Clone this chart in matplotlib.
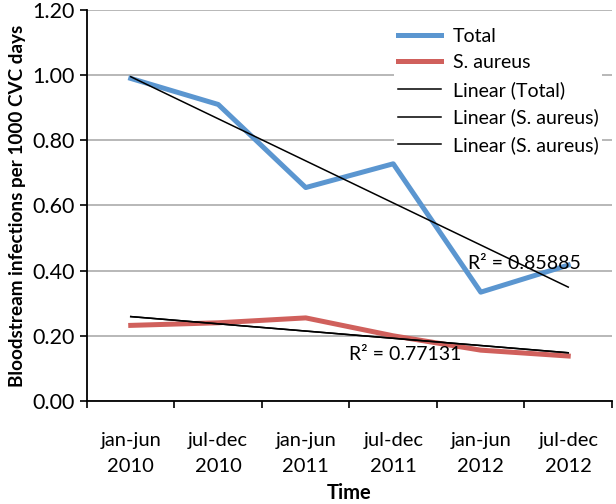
import numpy as np
import matplotlib
matplotlib.use("Agg")
import matplotlib.pyplot as plt

# Bloodstream infections per 1000 CVC days, half-year periods
periods = ["jan-jun\n2010", "jul-dec\n2010", "jan-jun\n2011",
           "jul-dec\n2011", "jan-jun\n2012", "jul-dec\n2012"]
total = [0.99, 0.91, 0.655, 0.728, 0.334, 0.417]
s_aureus = [0.232, 0.24, 0.255, 0.20, 0.156, 0.138]
r2_total_label = "R² = 0.85885"
r2_saureus_label = "R² = 0.77131"

plt.rcParams['font.family'] = ['Lato', 'DejaVu Sans']

fig = plt.figure(figsize=(6.16, 5.04), dpi=100)
ax = fig.add_axes([0.1412, 0.2044, 0.8523, 0.7758])

x = np.arange(len(periods))

# linear trendlines (least squares, like Excel)
fit_total = np.polyval(np.polyfit(x, total, 1), x)
fit_sa = np.polyval(np.polyfit(x, s_aureus, 1), x)

ax.plot(x, total, color='#5B96D0', lw=3.6, label='Total', zorder=3)
ax.plot(x, s_aureus, color='#D0605C', lw=3.6, label='S. aureus', zorder=3)
ax.plot(x, fit_total, color='black', lw=1.1, label='Linear (Total)', zorder=4)
ax.plot(x, fit_sa, color='black', lw=1.1, label='Linear (S. aureus)', zorder=4)
ax.plot(x, fit_sa, color='black', lw=1.1, label='Linear (S. aureus)', zorder=4)

ax.text(3.85, 0.405, r2_total_label, fontsize=14, zorder=5)
ax.text(2.5, 0.125, r2_saureus_label, fontsize=14, zorder=5)

ax.set_xlim(-0.5, len(periods) - 0.5)
ax.set_ylim(0, 1.2)
ax.set_yticks(np.arange(0, 1.21, 0.2))
ax.set_yticklabels([f"{v:.2f}" for v in np.arange(0, 1.21, 0.2)], fontsize=15.5)

# ticks at category boundaries, labels at centres
ax.set_xticks(np.arange(-0.5, len(periods), 1.0))
ax.set_xticklabels([])
ax.set_xticks(x, minor=True)
ax.set_xticklabels(periods, minor=True, fontsize=14.5, linespacing=1.65)
ax.tick_params(axis='x', which='minor', length=0, pad=22)
ax.tick_params(axis='x', which='major', length=5, width=1.2, direction='out')
ax.tick_params(axis='y', length=5, width=1.2, direction='out', pad=4)

ax.grid(axis='y', color='#ABABAB', lw=1.2)
ax.set_axisbelow(True)
for side in ['top', 'right']:
    ax.spines[side].set_visible(False)
for side in ['left', 'bottom']:
    ax.spines[side].set_linewidth(1.3)

ax.set_ylabel("Bloodstream infections per 1000 CVC days", fontsize=13.6,
              fontweight='bold', labelpad=4)
ax.set_xlabel("Time", fontsize=14.5, fontweight='bold', labelpad=6)

leg = ax.legend(loc='upper right', bbox_to_anchor=(1.0, 0.99), frameon=True,
                fontsize=14, handlelength=2.2, labelspacing=0.5,
                borderpad=0.2, handletextpad=0.6, fancybox=False)
leg.get_frame().set_edgecolor('none')
leg.get_frame().set_facecolor('white')
leg.get_frame().set_alpha(1)

fig.savefig("out.png", dpi=100)
